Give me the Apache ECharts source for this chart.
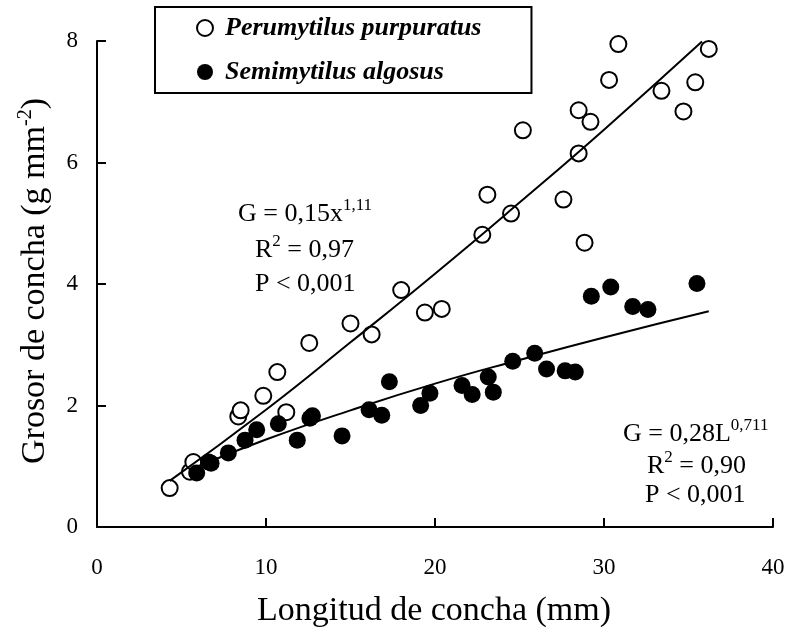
<!DOCTYPE html>
<html>
<head>
<meta charset="utf-8">
<script src="https://cdn.jsdelivr.net/npm/echarts@6/dist/echarts.min.js"></script>
<style>html,body{margin:0;padding:0;background:#fff}#c{width:789px;height:638px}</style>
</head>
<body>
<div id="c"></div>
<script>
// Perumytilus purpuratus (open circles): [length mm, thickness g mm-2]
const perumytilusX = [4.3, 5.5, 5.7, 8.36, 8.5, 9.84, 10.67, 11.2, 12.56, 15.0, 16.25, 18.0, 19.4, 20.4, 22.8, 23.1, 24.5, 25.2, 27.6, 28.5, 28.5, 28.85, 29.2, 30.3, 30.85, 33.4, 34.7, 35.4, 36.2];
const perumytilusY = [0.64, 0.91, 1.07, 1.82, 1.92, 2.16, 2.55, 1.89, 3.03, 3.35, 3.17, 3.90, 3.53, 3.59, 4.81, 5.47, 5.16, 6.53, 5.39, 6.15, 6.86, 4.68, 6.67, 7.36, 7.95, 7.18, 6.84, 7.32, 7.87];
// Semimytilus algosus (filled circles)
const semimytilusX = [5.9, 6.6, 6.75, 7.77, 8.76, 9.45, 10.73, 11.85, 12.6, 12.75, 14.5, 16.1, 16.85, 17.3, 19.15, 19.7, 21.6, 22.2, 23.15, 23.45, 24.6, 25.9, 26.6, 27.7, 28.3, 29.25, 30.4, 31.7, 32.6, 35.5];
const semimytilusY = [0.89, 1.07, 1.05, 1.22, 1.43, 1.60, 1.70, 1.43, 1.79, 1.83, 1.50, 1.93, 1.84, 2.39, 2.00, 2.20, 2.33, 2.18, 2.47, 2.22, 2.73, 2.86, 2.60, 2.57, 2.55, 3.80, 3.95, 3.63, 3.58, 4.01];
// Fitted curves
const fitPerumytilusX = [4.3, 10, 15, 20, 25, 30, 35.8];
const fitPerumytilusY = [0.76, 1.93, 3.04, 4.17, 5.34, 6.54, 7.99];
const fitSemimytilusX = [6, 10, 15, 20, 25, 30, 36.2];
const fitSemimytilusY = [1.0, 1.44, 1.92, 2.36, 2.75, 3.12, 3.55];
const xTicks = [0, 10, 20, 30, 40];
const yTicks = [0, 2, 4, 6, 8];
const seriesNames = ['Perumytilus purpuratus', 'Semimytilus algosus'];

const zip = (a, b) => a.map((v, i) => [v, b[i]]);
const FONT = '"Liberation Serif", "Times New Roman", serif';

const chart = echarts.init(document.getElementById('c'), null, {renderer: 'canvas'});
chart.setOption({
  animation: false,
  backgroundColor: '#fff',
  grid: {left: 97, right: 16, top: 41, bottom: 111, containLabel: false},
  xAxis: {
    type: 'value', min: xTicks[0], max: xTicks[xTicks.length - 1], interval: 10,
    splitLine: {show: false},
    axisLine: {lineStyle: {color: '#000', width: 2}},
    axisTick: {inside: true, length: 9, lineStyle: {color: '#000', width: 2}},
    axisLabel: {color: '#000', fontFamily: FONT, fontSize: 23, margin: 29}
  },
  yAxis: {
    type: 'value', min: yTicks[0], max: yTicks[yTicks.length - 1], interval: 2,
    splitLine: {show: false},
    axisLine: {show: true, lineStyle: {color: '#000', width: 2}},
    axisTick: {show: true, inside: true, length: 9, lineStyle: {color: '#000', width: 2}},
    axisLabel: {color: '#000', fontFamily: FONT, fontSize: 23, margin: 19}
  },
  legend: {
    data: seriesNames,
    orient: 'vertical',
    left: 155, top: 7,
    padding: [8, 50, 8, 41],
    itemGap: 18,
    itemWidth: 30, itemHeight: 16,
    borderColor: '#000', borderWidth: 2,
    textStyle: {color: '#000', fontFamily: FONT, fontSize: 26, fontWeight: 'bold', fontStyle: 'italic'}
  },
  series: [
    {
      name: seriesNames[0], type: 'scatter', z: 2,
      symbol: 'circle', symbolSize: 16,
      itemStyle: {color: '#fff', borderColor: '#000', borderWidth: 2, opacity: 1},
      data: zip(perumytilusX, perumytilusY)
    },
    {
      name: seriesNames[1], type: 'scatter', z: 3,
      symbol: 'circle', symbolSize: 17,
      itemStyle: {color: '#000', opacity: 1},
      data: zip(semimytilusX, semimytilusY)
    },
    {
      name: 'fitP', type: 'line', z: 4, showSymbol: false, smooth: true, silent: true,
      lineStyle: {color: '#000', width: 2},
      data: zip(fitPerumytilusX, fitPerumytilusY)
    },
    {
      name: 'fitS', type: 'line', z: 4, showSymbol: false, smooth: true, silent: true,
      lineStyle: {color: '#000', width: 2},
      data: zip(fitSemimytilusX, fitSemimytilusY)
    }
  ],
  graphic: [
    {type: 'text', x: 434, y: 611, style: {text: 'Longitud de concha (mm)', font: '34px ' + FONT, fill: '#000', align: 'center', verticalAlign: 'middle'}},
    {type: 'text', x: 34, y: 281, rotation: Math.PI / 2,
     style: {text: '{n|Grosor de concha (g mm}{s|-2}{n|)}', align: 'center', verticalAlign: 'middle', fill: '#000',
       rich: {n: {fontFamily: FONT, fontSize: 34, lineHeight: 36, verticalAlign: 'bottom'},
              s: {fontFamily: FONT, fontSize: 20, verticalAlign: 'top'}}}},
    {type: 'text', x: 238, y: 212,
     style: {text: '{n|G = 0,15x}{s|1,11}', align: 'left', verticalAlign: 'middle', fill: '#000',
       rich: {n: {fontFamily: FONT, fontSize: 26, lineHeight: 30, verticalAlign: 'bottom'}, s: {fontFamily: FONT, fontSize: 17, verticalAlign: 'top'}}}},
    {type: 'text', x: 255, y: 248,
     style: {text: '{n|R}{s|2}{n| = 0,97}', align: 'left', verticalAlign: 'middle', fill: '#000',
       rich: {n: {fontFamily: FONT, fontSize: 26, lineHeight: 30, verticalAlign: 'bottom'}, s: {fontFamily: FONT, fontSize: 17, verticalAlign: 'top'}}}},
    {type: 'text', x: 255, y: 284,
     style: {text: 'P < 0,001', align: 'left', verticalAlign: 'middle', fill: '#000', font: '26px ' + FONT}},
    {type: 'text', x: 623, y: 432,
     style: {text: '{n|G = 0,28L}{s|0,711}', align: 'left', verticalAlign: 'middle', fill: '#000',
       rich: {n: {fontFamily: FONT, fontSize: 26, lineHeight: 30, verticalAlign: 'bottom'}, s: {fontFamily: FONT, fontSize: 17, verticalAlign: 'top'}}}},
    {type: 'text', x: 647, y: 464,
     style: {text: '{n|R}{s|2}{n| = 0,90}', align: 'left', verticalAlign: 'middle', fill: '#000',
       rich: {n: {fontFamily: FONT, fontSize: 26, lineHeight: 30, verticalAlign: 'bottom'}, s: {fontFamily: FONT, fontSize: 17, verticalAlign: 'top'}}}},
    {type: 'text', x: 645, y: 495,
     style: {text: 'P < 0,001', align: 'left', verticalAlign: 'middle', fill: '#000', font: '26px ' + FONT}}
  ]
});
</script>
</body>
</html>
